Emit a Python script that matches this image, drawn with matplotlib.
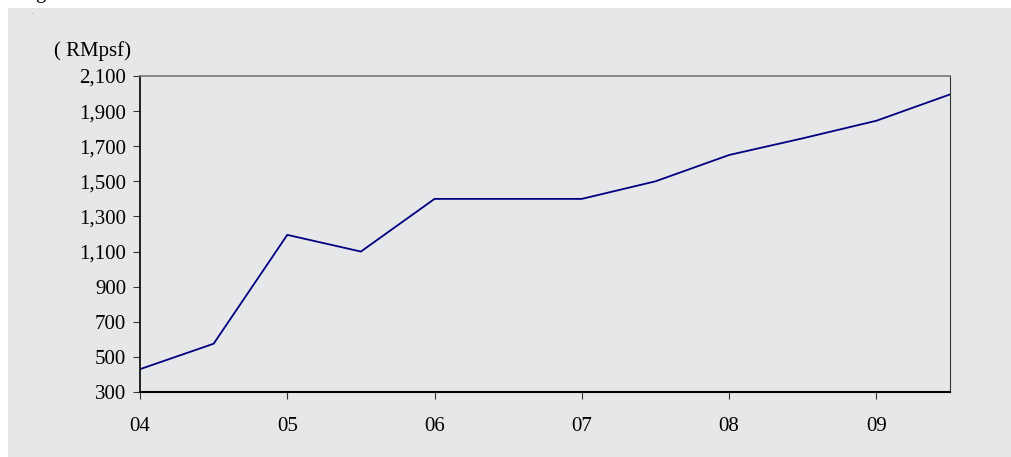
import matplotlib
matplotlib.use("Agg")
import matplotlib.pyplot as plt
from matplotlib.patches import Rectangle

# Half-yearly price series (RM per sq ft)
periods = [2004.0, 2004.5, 2005.0, 2005.5, 2006.0, 2006.5,
           2007.0, 2007.5, 2008.0, 2008.5, 2009.0, 2009.5]
prices = [430, 575, 1195, 1100, 1400, 1400,
          1400, 1500, 1650, 1745, 1845, 1995]
year_ticks = [2004, 2005, 2006, 2007, 2008, 2009]
year_labels = ["04", "05", "06", "07", "08", "09"]
y_ticks = list(range(300, 2101, 200))

plt.rcParams["font.family"] = ["Liberation Serif", "DejaVu Serif"]

W, H = 1012, 457
fig = plt.figure(figsize=(W / 100, H / 100), dpi=100, facecolor="white")

panel_bg = "#e6e7e9"
fig.patches.append(Rectangle((8 / W, -0.05), 1.1, 1.05 - 8 / H,
                             transform=fig.transFigure, facecolor=panel_bg,
                             edgecolor="none", zorder=-5))

# tail of the heading above the panel
fig.text(35 / W, 1 + 2 / H, "g", fontsize=15, ha="left", va="baseline")
fig.text(32 / W, 1 - 14 / H, ".", fontsize=5, color="#555555", ha="left", va="baseline")

left, right, top, bottom = 140, 950, 76, 392
ax = fig.add_axes([left / W, 1 - bottom / H, (right - left) / W, (bottom - top) / H])
ax.set_zorder(2)
ax.set_facecolor(panel_bg)

ax.plot(periods, prices, color="#000080", linewidth=1.3, solid_joinstyle="miter")

ax.set_xlim(2004, 2009.5)
ax.set_ylim(300, 2100)
ax.set_xticks(year_ticks)
ax.set_xticklabels(year_labels)
ax.set_yticks(y_ticks)
ax.set_yticklabels([f"{v:,}" for v in y_ticks])

ax.tick_params(axis="both", direction="out", length=5, width=0.8,
               labelsize=15, color="#333333")
ax.tick_params(axis="x", pad=13)
ax.tick_params(axis="y", pad=5)

ax.spines["left"].set_color("black")
ax.spines["left"].set_linewidth(1.2)
ax.spines["bottom"].set_color("black")
ax.spines["bottom"].set_linewidth(1.5)
ax.spines["top"].set_color("#777777")
ax.spines["top"].set_linewidth(1.2)
ax.spines["right"].set_color("#333333")
ax.spines["right"].set_linewidth(0.8)

fig.text(54 / W, 1 - 56 / H, "( RMpsf)", fontsize=15, ha="left", va="baseline")

fig.savefig("out.png", dpi=100, facecolor="white")
